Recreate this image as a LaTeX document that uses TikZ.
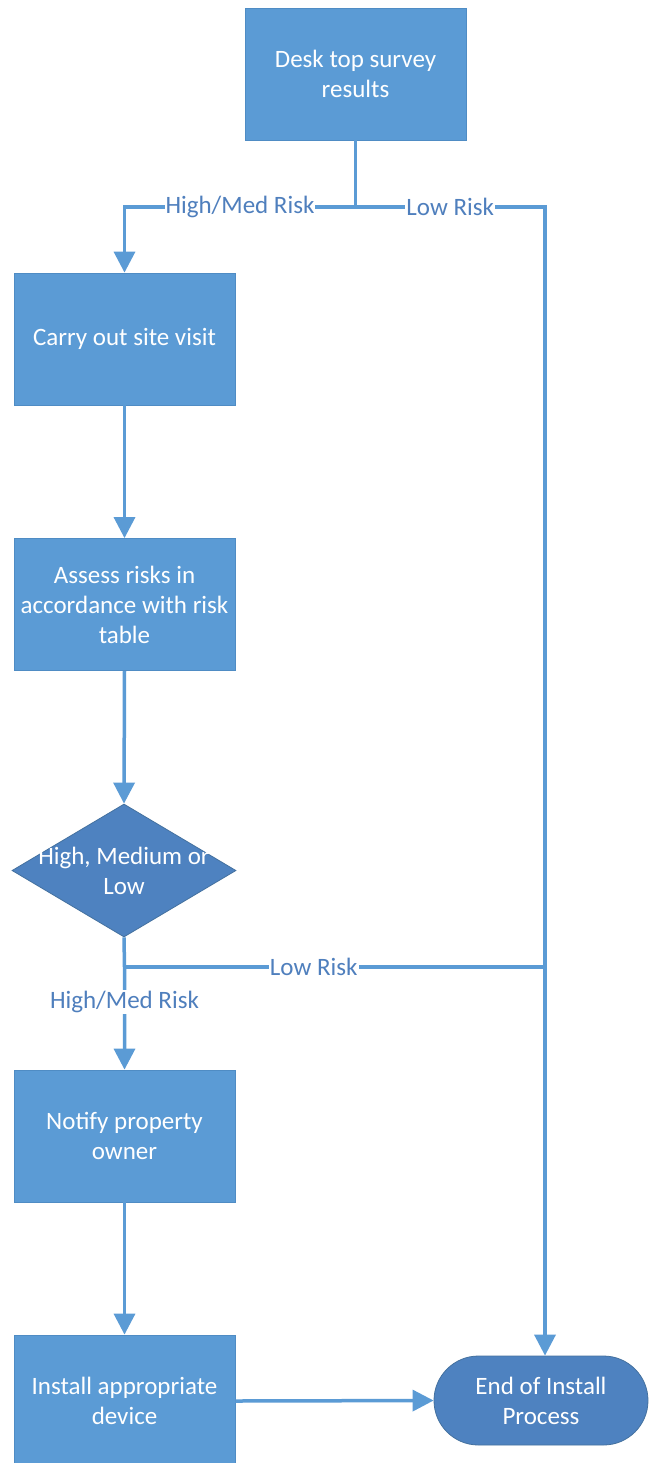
\documentclass[tikz,border=0pt]{standalone}
\usepackage{fontspec}
\setmainfont{Carlito}
\usetikzlibrary{shapes.geometric,shapes.misc,arrows.meta}
\definecolor{boxblue}{HTML}{5B9BD5}
\definecolor{boxedge}{HTML}{4F8CC4}
\definecolor{darkblue}{HTML}{4E82C0}
\definecolor{darkedge}{HTML}{44719F}
\definecolor{lineblue}{HTML}{5B9BD5}
\definecolor{lbltext}{HTML}{4F7FBD}
\begin{document}
\begin{tikzpicture}[x=1pt,y=-1pt,
  txt/.style={font=\fontsize{25}{30}\selectfont,text=white,align=center},
  proc/.style={txt,rectangle,fill=boxblue,draw=boxedge,line width=0.8pt,
    minimum width=221pt,minimum height=132pt,inner sep=0pt},
  decision/.style={diamond,fill=darkblue,draw=darkedge,line width=0.8pt,
    minimum width=224pt,minimum height=133pt,inner sep=0pt},
  term/.style={txt,rounded rectangle,fill=darkblue,draw=darkedge,line width=0.8pt,
    minimum width=214pt,minimum height=89pt,inner sep=0pt},
  conn/.style={draw=lineblue,line width=3.5pt},
  arr/.style={conn,-{Triangle[length=21pt,width=21pt]}},
  lbl/.style={font=\fontsize{25}{30}\selectfont,text=lbltext,fill=white,inner sep=1pt}
]
\useasboundingbox (0,0) rectangle (648,1463);
\fill[white] (0,0) rectangle (648,1463);

\node[proc] (desk) at (355.5,74) {Desk top survey\\results};
\node[proc] (visit) at (124.5,339) {Carry out site visit};
\node[proc] (assess) at (124.5,604.5) {Assess risks in\\accordance with risk\\table};
\node[decision,label={[txt]center:High, Medium or\\Low}] (dec) at (124,870.5) {};
\node[proc] (notify) at (124.5,1136) {Notify property\\owner};
\node[proc] (install) at (124.5,1401) {Install appropriate\\device};
\node[term] (end) at (541,1400.5) {End of Install\\Process};

\coordinate (j1) at (355.5,207);
\coordinate (jl) at (124.5,207);
\coordinate (jr) at (545,207);
\coordinate (j2) at (124.5,967);
\coordinate (j3) at (545,967);

\draw[conn] (desk.south) -- (j1);
\draw[arr] (j1) -- node[lbl]{High/Med Risk} (jl) -- (visit.north);
\draw[arr] (j1) -- node[lbl]{Low Risk} (jr) -- (jr |- end.north);
\draw[arr] (visit.south) -- (assess.north);
\draw[arr] (assess.south) -- (dec.north);
\draw[arr] (dec.south) -- (j2) -- node[lbl,pos=0.34]{High/Med Risk} (notify.north);
\draw[conn] (j2) -- node[lbl,pos=0.45]{Low Risk} (j3);
\draw[arr] (notify.south) -- (install.north);
\draw[arr] (install.east) -- (end.west);
\end{tikzpicture}
\end{document}
